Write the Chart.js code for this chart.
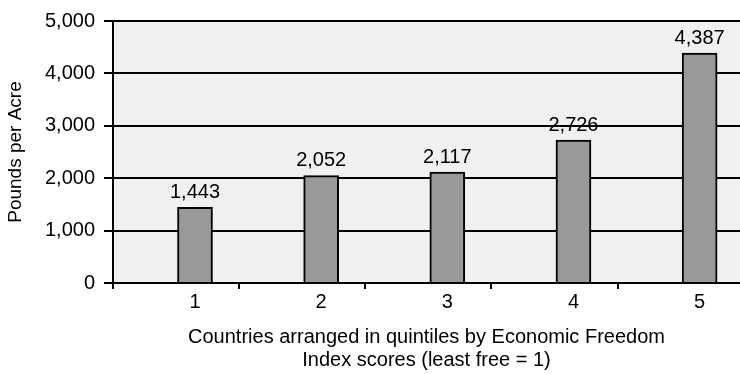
<!DOCTYPE html>
<html>
<head>
<meta charset="utf-8">
<script src="https://cdn.jsdelivr.net/npm/chart.js@4/dist/chart.umd.min.js"></script>
<style>
  html, body { margin: 0; padding: 0; background: #fff; }
  #wrap { width: 740px; height: 374px; }
</style>
</head>
<body>
<div id="wrap"><canvas id="yield"></canvas></div>
<script>
// quintiles (least free = 1) and pounds per acre
const quintiles = [1, 2, 3, 4, 5];
const poundsPerAcre = [1443, 2052, 2117, 2726, 4387];
// tick marks on the x axis sit between the quintiles
const dividerTicks = [0.35, 1.35, 2.35, 3.35, 4.35];
const yTicks = [0, 1000, 2000, 3000, 4000, 5000];

const FONT = "'Liberation Sans', Arial, Helvetica, sans-serif";

// light grey plot background
const plotBg = {
  id: "plotBg",
  beforeDraw(chart) {
    const a = chart.chartArea, ctx = chart.ctx;
    ctx.save();
    ctx.fillStyle = "#f0f0f0";
    ctx.fillRect(a.left, a.top, a.right - a.left, a.bottom - a.top);
    ctx.restore();
  }
};

// value labels above bars
const barValues = {
  id: "barValues",
  afterDatasetsDraw(chart) {
    const ctx = chart.ctx;
    const meta = chart.getDatasetMeta(0);
    ctx.save();
    ctx.font = "20px " + FONT;
    ctx.fillStyle = "#000";
    ctx.textAlign = "center";
    ctx.textBaseline = "alphabetic";
    meta.data.forEach((bar, i) => {
      ctx.fillText(poundsPerAcre[i].toLocaleString("en-US"), bar.x, bar.y - 9);
    });
    ctx.restore();
  }
};

new Chart("yield", {
  type: "bar",
  data: {
    datasets: [{
      data: quintiles.map((q, i) => ({ x: q, y: poundsPerAcre[i] })),
      backgroundColor: "#999999",
      borderColor: "#000",
      borderWidth: 2,
      barThickness: 35
    }]
  },
  options: {
    responsive: true,
    maintainAspectRatio: false,
    animation: false,
    layout: { padding: { top: 1, right: 0, left: 0, bottom: 0 } },
    plugins: {
      legend: { display: false },
      tooltip: { enabled: false }
    },
    scales: {
      x: {
        type: "linear",
        offset: false,
        min: 0.35,
        max: 5.32,
        afterBuildTicks(axis) {
          axis.ticks = quintiles.concat(dividerTicks)
            .sort((a, b) => a - b)
            .map(v => ({ value: v }));
        },
        afterFit(axis) { axis.height = 91; },
        border: { display: false },
        grid: {
          offset: false,
          drawOnChartArea: false,
          drawTicks: true,
          tickLength: 6,
          lineWidth: 2,
          color: (c) => quintiles.includes(c.tick && c.tick.value) ? "rgba(0,0,0,0)" : "#000"
        },
        ticks: {
          autoSkip: false,
          maxRotation: 0,
          padding: 1,
          color: "#000",
          font: { family: FONT, size: 20 },
          callback: (v) => quintiles.includes(v) ? String(v) : ""
        },
        title: {
          display: true,
          text: ["Countries arranged in quintiles by Economic Freedom", "Index scores (least free = 1)"],
          color: "#000",
          font: { family: FONT, size: 20, lineHeight: 1.15 },
          padding: { top: 6, bottom: 2 }
        }
      },
      y: {
        min: 0,
        max: 5000,
        afterBuildTicks(axis) { axis.ticks = yTicks.map(v => ({ value: v })); },
        afterFit(axis) { axis.width = 113; },
        border: { display: true, color: "#000", width: 2 },
        grid: {
          color: "#000",
          lineWidth: 2,
          drawTicks: true,
          tickLength: 9
        },
        ticks: {
          padding: 9,
          color: "#000",
          font: { family: FONT, size: 20 },
          callback: (v) => v.toLocaleString("en-US")
        },
        title: {
          display: true,
          text: "Pounds per Acre",
          color: "#000",
          font: { family: FONT, size: 19 },
          padding: { top: 4, bottom: 0 }
        }
      }
    }
  },
  plugins: [plotBg, barValues]
});
</script>
</body>
</html>
